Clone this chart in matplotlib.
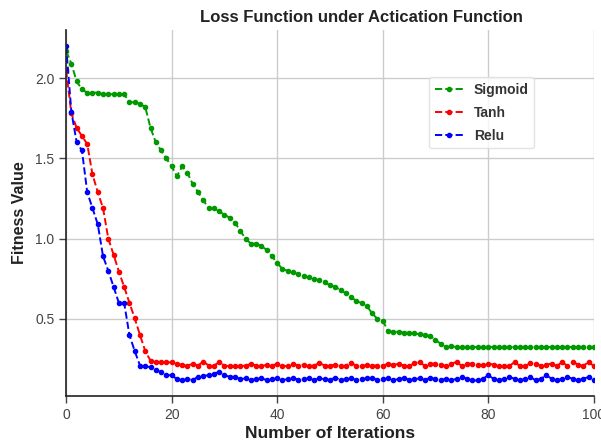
import matplotlib
matplotlib.use("Agg")
import matplotlib.pyplot as plt
import numpy as np

# iterations and loss per activation function
iterations = np.arange(101)

sigmoid = [2.17, 2.09, 1.98, 1.93, 1.91, 1.91, 1.91, 1.90, 1.90, 1.90,
           1.90, 1.90, 1.85, 1.85, 1.84, 1.82, 1.69, 1.60, 1.55, 1.50,
           1.45, 1.39, 1.45, 1.41, 1.34, 1.29, 1.24, 1.19, 1.19, 1.17,
           1.15, 1.13, 1.10, 1.05, 1.00, 0.97, 0.97, 0.955, 0.93, 0.89,
           0.85, 0.81, 0.80, 0.79, 0.78, 0.765, 0.76, 0.75, 0.74, 0.73,
           0.71, 0.70, 0.68, 0.66, 0.64, 0.61, 0.60, 0.58, 0.535, 0.50,
           0.49, 0.425, 0.42, 0.42, 0.415, 0.415, 0.41, 0.405, 0.40, 0.395,
           0.37, 0.345, 0.325, 0.33, 0.325, 0.325, 0.325, 0.325, 0.325, 0.325,
           0.325, 0.325, 0.325, 0.325, 0.325, 0.325, 0.325, 0.325, 0.325, 0.325,
           0.325, 0.325, 0.325, 0.325, 0.325, 0.325, 0.325, 0.325, 0.325, 0.325, 0.325]

tanh = [2.05, 1.78, 1.69, 1.64, 1.59, 1.40, 1.29, 1.19, 1.00, 0.90,
        0.795, 0.70, 0.60, 0.505, 0.40, 0.30, 0.24, 0.235, 0.23, 0.23,
        0.23, 0.22, 0.215, 0.21, 0.22, 0.21, 0.235, 0.21, 0.21, 0.23,
        0.21, 0.205, 0.205, 0.205, 0.21, 0.22, 0.21, 0.205, 0.215, 0.21,
        0.22, 0.21, 0.205, 0.22, 0.21, 0.215, 0.205, 0.21, 0.225, 0.21,
        0.21, 0.215, 0.205, 0.21, 0.225, 0.21, 0.205, 0.215, 0.21, 0.21,
        0.21, 0.22, 0.215, 0.22, 0.21, 0.205, 0.225, 0.232, 0.207, 0.222,
        0.222, 0.216, 0.207, 0.222, 0.232, 0.207, 0.222, 0.222, 0.216, 0.212,
        0.222, 0.216, 0.207, 0.207, 0.207, 0.232, 0.207, 0.207, 0.225, 0.222,
        0.207, 0.216, 0.222, 0.207, 0.232, 0.207, 0.232, 0.216, 0.207, 0.232, 0.207]

relu = [2.20, 1.79, 1.60, 1.55, 1.29, 1.19, 1.09, 0.89, 0.80, 0.70,
        0.60, 0.60, 0.40, 0.30, 0.21, 0.205, 0.20, 0.18, 0.17, 0.15,
        0.15, 0.125, 0.12, 0.125, 0.12, 0.14, 0.145, 0.15, 0.16, 0.17,
        0.15, 0.14, 0.14, 0.125, 0.13, 0.12, 0.125, 0.13, 0.12, 0.125,
        0.13, 0.12, 0.125, 0.135, 0.12, 0.125, 0.13, 0.12, 0.13, 0.125,
        0.12, 0.135, 0.12, 0.125, 0.13, 0.12, 0.125, 0.13, 0.135, 0.12,
        0.125, 0.13, 0.12, 0.125, 0.135, 0.12, 0.125, 0.13, 0.12, 0.135,
        0.125, 0.12, 0.128, 0.117, 0.128, 0.138, 0.128, 0.117, 0.117, 0.128,
        0.149, 0.128, 0.117, 0.128, 0.138, 0.128, 0.117, 0.128, 0.138, 0.117,
        0.128, 0.149, 0.128, 0.117, 0.128, 0.138, 0.128, 0.117, 0.128, 0.138, 0.117]

plt.rcParams['font.family'] = ['Liberation Sans', 'DejaVu Sans']

fig = plt.figure(figsize=(6.01, 4.48), dpi=100)
ax = fig.add_axes([0.11, 0.116, 0.878, 0.817])

# three dashed lines with dot markers
ax.plot(iterations, sigmoid, '--o', color='#009900', lw=1.4, ms=3, label='Sigmoid')
ax.plot(iterations, tanh, '--o', color='#ff0000', lw=1.4, ms=3, label='Tanh')
ax.plot(iterations, relu, '--o', color='#0000ff', lw=1.4, ms=3, label='Relu')

ax.set_xlim(0, 100)
ax.set_ylim(0.02, 2.3)
ax.set_xticks([0, 20, 40, 60, 80, 100])
ax.set_yticks([0.5, 1.0, 1.5, 2.0])
ax.grid(True, color='#cccccc', lw=1)
ax.set_axisbelow(True)
for s in ['top', 'right']:
    ax.spines[s].set_visible(False)
for s in ['left', 'bottom']:
    ax.spines[s].set_color('#222222')
    ax.spines[s].set_linewidth(1.2)
ax.tick_params(labelsize=10, colors='#444444', length=5, width=1)

ax.set_title('Loss Function under Actication Function', fontsize=12, fontweight='bold',
             color='#222222', x=0.56)
ax.set_xlabel('Number of Iterations', fontsize=12.5, fontweight='bold', color='#222222', labelpad=3)
ax.set_ylabel('Fitness Value', fontsize=11.5, fontweight='bold', color='#222222', labelpad=6)

leg = ax.legend(loc='upper left', bbox_to_anchor=(0.675, 0.89), labelspacing=0.65,
                prop={'weight': 'bold', 'size': 10}, frameon=True, edgecolor='#dddddd')
for t in leg.get_texts():
    t.set_color('#333333')

plt.savefig('out.png', dpi=100)
